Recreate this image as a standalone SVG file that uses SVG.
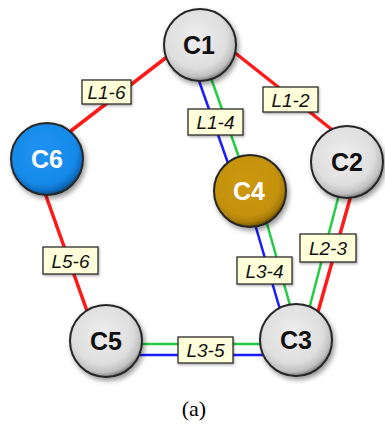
<svg xmlns="http://www.w3.org/2000/svg" width="385" height="425" viewBox="0 0 385 425">
<defs>
<style>
.red{stroke:#ff1a1a;stroke-width:3.5;fill:none}
.blue{stroke:#1a1aff;stroke-width:2.5;fill:none}
.green{stroke:#22cc44;stroke-width:2.5;fill:none}
.node{stroke:#262626;stroke-width:2;filter:url(#sh)}
.nt{font-family:"Liberation Sans",Arial,sans-serif;font-weight:bold;font-size:25px;text-anchor:middle}
.lb rect{fill:#ffffd9;stroke:#2a2a2a;stroke-width:1.3;filter:url(#sh2)}
.lb text{font-family:"Liberation Sans",Arial,sans-serif;font-style:italic;font-size:19px;fill:#111;text-anchor:middle}
</style>
<filter id="sh" x="-30%" y="-30%" width="170%" height="170%">
<feDropShadow dx="2" dy="3" stdDeviation="2.5" flood-color="#000" flood-opacity="0.4"/>
</filter>
<filter id="sh2" x="-20%" y="-30%" width="150%" height="170%">
<feDropShadow dx="1" dy="1.5" stdDeviation="1" flood-color="#000" flood-opacity="0.3"/>
</filter>
<radialGradient id="gGray" cx="0.45" cy="0.4" r="0.6">
<stop offset="0" stop-color="#eeeeee"/>
<stop offset="0.7" stop-color="#dedede"/>
<stop offset="0.9" stop-color="#c0c0c0"/>
<stop offset="1" stop-color="#808080"/>
</radialGradient>
<radialGradient id="gBlue" cx="0.45" cy="0.4" r="0.6">
<stop offset="0" stop-color="#1f92f5"/>
<stop offset="0.75" stop-color="#168ae8"/>
<stop offset="0.9" stop-color="#0e70c8"/>
<stop offset="1" stop-color="#0a4a80"/>
</radialGradient>
<radialGradient id="gGold" cx="0.45" cy="0.4" r="0.6">
<stop offset="0" stop-color="#cc990c"/>
<stop offset="0.75" stop-color="#c4910a"/>
<stop offset="0.9" stop-color="#a87c06"/>
<stop offset="1" stop-color="#6a4e04"/>
</radialGradient>
</defs>
<rect width="385" height="425" fill="#ffffff"/>
<g id="connectors">
<line class="red" x1="185" y1="43" x2="50" y2="147"/>
<line class="red" x1="210" y1="33" x2="345" y2="140"/>
<line class="red" x1="35" y1="165" x2="92" y2="325"/>
<line class="blue" x1="186.4" y1="45" x2="237.8" y2="191"/>
<line class="green" x1="199.4" y1="45" x2="250.8" y2="191"/>
<line class="blue" x1="245" y1="190" x2="286" y2="330"/>
<line class="green" x1="257.5" y1="190" x2="297" y2="330"/>
<line class="green" x1="348" y1="160" x2="301" y2="340"/>
<line class="red" x1="361" y1="160" x2="310" y2="340"/>
<line class="green" x1="106" y1="344" x2="296" y2="344"/>
<line class="blue" x1="106" y1="355" x2="296" y2="355"/>
</g>
<g id="labels">
<g id="lbl-L1-6" class="lb"><rect x="82" y="80" width="49" height="24"/><text x="106.5" y="99">L1-6</text></g>
<g id="lbl-L1-2" class="lb"><rect x="263" y="87" width="55" height="25"/><text x="290.5" y="106.5">L1-2</text></g>
<g id="lbl-L1-4" class="lb"><rect x="188" y="109" width="55" height="26"/><text x="215.5" y="129">L1-4</text></g>
<g id="lbl-L5-6" class="lb"><rect x="43" y="247" width="55" height="27"/><text x="70.5" y="267.5">L5-6</text></g>
<g id="lbl-L3-4" class="lb"><rect x="237" y="257" width="55" height="27"/><text x="264.5" y="277.5">L3-4</text></g>
<g id="lbl-L2-3" class="lb"><rect x="300" y="234" width="56" height="28"/><text x="328" y="255">L2-3</text></g>
<g id="lbl-L3-5" class="lb"><rect x="178" y="337" width="55" height="26"/><text x="205.5" y="357">L3-5</text></g>
</g>
<g id="C1"><circle class="node" cx="200" cy="45" r="36" fill="url(#gGray)"/><text class="nt" x="199" y="54" fill="#111">C1</text></g>
<g id="C2"><circle class="node" cx="347" cy="162" r="36" fill="url(#gGray)"/><text class="nt" x="347" y="171" fill="#111">C2</text></g>
<g id="C3"><circle class="node" cx="296" cy="340" r="36" fill="url(#gGray)"/><text class="nt" x="296" y="349" fill="#111">C3</text></g>
<g id="C4"><circle class="node" cx="250" cy="191" r="36" fill="url(#gGold)"/><text class="nt" x="249" y="200" fill="#ffffff">C4</text></g>
<g id="C5"><circle class="node" cx="106" cy="341" r="36" fill="url(#gGray)"/><text class="nt" x="106" y="350" fill="#111">C5</text></g>
<g id="C6"><circle class="node" cx="47" cy="159" r="36" fill="url(#gBlue)"/><text class="nt" x="47" y="168" fill="#ffffff">C6</text></g>
<text x="194" y="416" font-family="'Liberation Serif','Times New Roman',serif" font-size="22" text-anchor="middle" fill="#000">(a)</text>
</svg>
